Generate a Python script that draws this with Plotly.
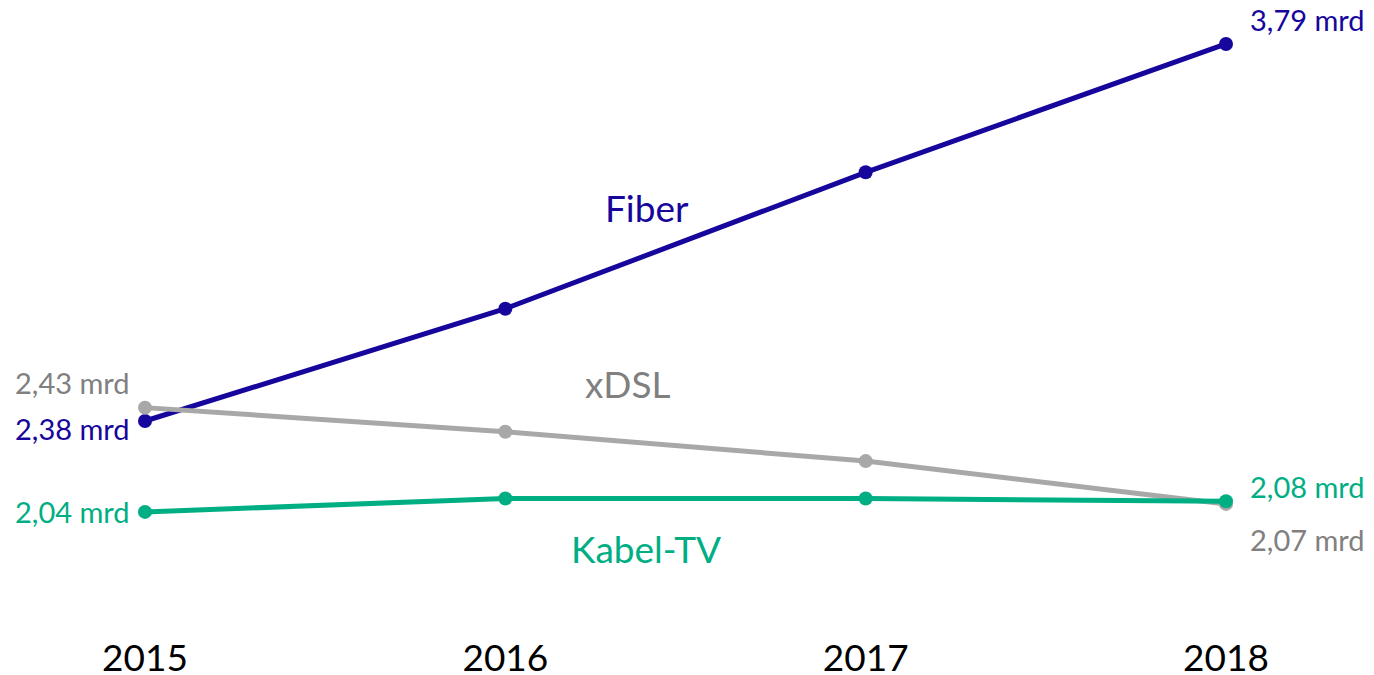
import plotly.graph_objects as go

years = [2015, 2016, 2017, 2018]
fiber = [2.38, 2.80, 3.31, 3.79]
xdsl = [2.43, 2.34, 2.23, 2.07]
kabel = [2.04, 2.09, 2.09, 2.08]

series_names = ["Fiber", "xDSL", "Kabel-TV"]
line_colors = ["#16069c", "#a8a8a8", "#00ae84"]
text_colors = ["#16069c", "#808080", "#00ae84"]
values = [fiber, xdsl, kabel]

FONT = "Lato, 'Open Sans', sans-serif"

fig = go.Figure()
for name, vals, lc in zip(series_names, values, line_colors):
    fig.add_trace(go.Scatter(
        x=years, y=vals, mode="lines+markers", name=name,
        line=dict(color=lc, width=5),
        marker=dict(color=lc, size=14),
        hoverinfo="skip",
    ))

def fmt(v):
    return f"{v:.2f}".replace(".", ",") + " mrd"

# start/end value labels: (series index, point index, xanchor, xshift, yshift)
label_specs = [
    (1, 0, "right", -13, 25),
    (0, 0, "right", -13, -7),
    (2, 0, "right", -13, 0),
    (0, 3, "left", 22, 24),
    (2, 3, "left", 22, 15),
    (1, 3, "left", 22, -36),
]
annotations = []
for si, pi, xa, xs, ys in label_specs:
    annotations.append(dict(
        x=years[pi], y=values[si][pi], text=fmt(values[si][pi]),
        xanchor=xa, yanchor="middle", xshift=xs, yshift=ys,
        showarrow=False, font=dict(family=FONT, size=29, color=text_colors[si]),
    ))

# series name labels
name_pos = [(2016.393, 3.18), (2016.34, 2.522), (2016.39, 1.905)]
for name, (nx, ny), tc in zip(series_names, name_pos, text_colors):
    annotations.append(dict(
        x=nx, y=ny, text=name, xanchor="center", yanchor="middle",
        showarrow=False, font=dict(family=FONT, size=37, color=tc),
    ))

fig.update_layout(
    width=1366, height=667,
    margin=dict(l=0, r=0, t=0, b=57),
    paper_bgcolor="white", plot_bgcolor="white",
    showlegend=False,
    annotations=annotations,
    xaxis=dict(
        range=[2014.6198, 2018.4107], tickmode="array", tickvals=years,
        ticktext=[str(y) for y in years], showgrid=False, zeroline=False,
        showline=False, ticks="", ticklabelstandoff=15, automargin=False,
        tickfont=dict(family=FONT, size=37, color="#000000"),
    ),
    yaxis=dict(
        range=[1.6433, 3.9245], visible=False, showgrid=False, zeroline=False,
        automargin=False,
    ),
)

fig.write_html("out.html")
